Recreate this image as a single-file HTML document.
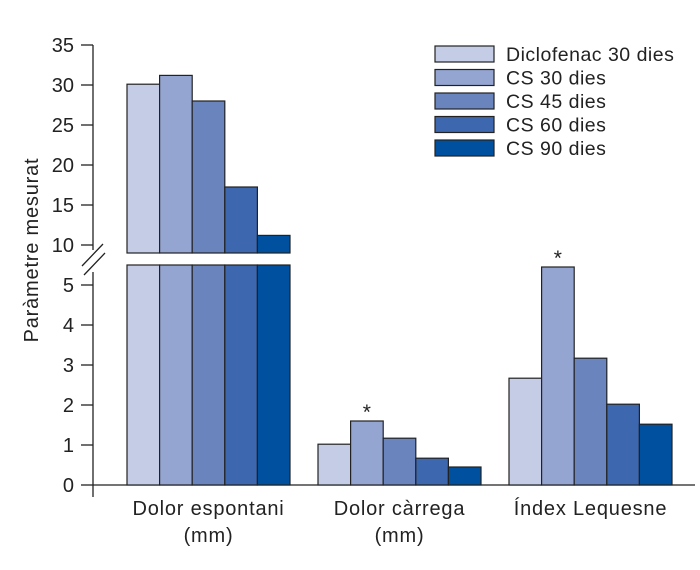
<!DOCTYPE html>
<html><head><meta charset="utf-8"><style>
body{margin:0;background:#fff}
svg{display:block;font-family:"Liberation Sans",sans-serif}
</style></head><body>
<svg id="c" width="700" height="570" xmlns="http://www.w3.org/2000/svg"></svg>
<script>
const categories=[["Dolor espontani","(mm)"],["Dolor càrrega","(mm)"],["Índex Lequesne",""]];
const seriesNames=["Diclofenac 30 dies","CS 30 dies","CS 45 dies","CS 60 dies","CS 90 dies"];
const diclofenac30=[30.1,1.02,2.67];
const cs30=[31.2,1.6,5.45];
const cs45=[28,1.17,3.17];
const cs60=[17.25,0.67,2.02];
const cs90=[11.2,0.45,1.52];
const series=[diclofenac30,cs30,cs45,cs60,cs90];
const lowerTicks=[0,1,2,3,4,5];
const upperTicks=[10,15,20,25,30,35];
const starred=[[1,1],[2,1]];
const colors=["#c5cce6","#95a5d2","#6a84be","#3d67ae","#0050a0"];
const svg=document.getElementById('c');
const NS="http://www.w3.org/2000/svg";
function mk(t,a,p){const e=document.createElementNS(NS,t);for(const k in a)e.setAttribute(k,a[k]);(p||svg).appendChild(e);return e;}
const yLow=v=>485-40*v;
const yUp=v=>245-8*(v-10);
const LOWMAX=5.5, UPBOT=253;
const x0=93, groupStart=[127,318,509], bw=32.6;
let e=mk('line',{x1:x0,y1:45,x2:x0,y2:250,stroke:'#222','stroke-width':1.3});

e=mk('line',{x1:x0,y1:272,x2:x0,y2:497,stroke:'#222','stroke-width':1.3});

e=mk('line',{x1:x0,y1:485,x2:695,y2:485,stroke:'#222','stroke-width':1.3});

e=mk('path',{d:'M82 266 L103 244 M84 275 L105 253',stroke:'#222','stroke-width':1.3,fill:'none'});

lowerTicks.forEach(v=>{
  const y=yLow(v);
  let l=mk('line',{x1:81,y1:y,x2:x0,y2:y,stroke:'#222','stroke-width':1.3});
  
  let t=mk('text',{x:74,y:y+7,'text-anchor':'end','font-size':20,fill:'#222'});t.textContent=v;
  
});
upperTicks.forEach(v=>{
  const y=yUp(v);
  let l=mk('line',{x1:81,y1:y,x2:x0,y2:y,stroke:'#222','stroke-width':1.3});
  
  let t=mk('text',{x:74,y:y+7,'text-anchor':'end','font-size':20,fill:'#222'});t.textContent=v;
  
});
e=mk('text',{x:38,y:250,'text-anchor':'middle','font-size':20,'letter-spacing':0.8,fill:'#222',transform:'rotate(-90 38 250)'});
e.textContent='Paràmetre mesurat';

series.forEach((vals,s)=>{
  vals.forEach((v,g)=>{
    const x=groupStart[g]+s*bw;
    if(v>LOWMAX){
      let r=mk('rect',{x:x,y:yLow(LOWMAX),width:bw,height:485-yLow(LOWMAX),fill:colors[s],stroke:'#222','stroke-width':1.2});
      
      let r2=mk('rect',{x:x,y:yUp(v),width:bw,height:UPBOT-yUp(v),fill:colors[s],stroke:'#222','stroke-width':1.2});
      
    } else {
      let r=mk('rect',{x:x,y:yLow(v),width:bw,height:485-yLow(v),fill:colors[s],stroke:'#222','stroke-width':1.2});
      
    }
  });
});
starred.forEach(([g,s])=>{
  const v=series[s][g];
  let t=mk('text',{x:groupStart[g]+s*bw+bw/2,y:yLow(v)-2,'text-anchor':'middle','font-size':21,fill:'#222'});
  t.textContent='*';
  
});
categories.forEach((c,g)=>{
  const cx=groupStart[g]+2.5*bw;
  let t=mk('text',{x:cx,y:515,'text-anchor':'middle','font-size':20,'letter-spacing':0.8,fill:'#222'});t.textContent=c[0];
  
  if(c[1]){let t2=mk('text',{x:cx,y:542,'text-anchor':'middle','font-size':20,'letter-spacing':0.8,fill:'#222'});t2.textContent=c[1];
  }
});
seriesNames.forEach((n,s)=>{
  const y=46+s*23.5;
  let r=mk('rect',{x:435,y:y,width:59,height:16,fill:colors[s],stroke:'#222','stroke-width':1.2});
  
  let t=mk('text',{x:506,y:y+15,'font-size':19.5,'letter-spacing':0.5,fill:'#222'});t.textContent=n;
  
});
</script>
</body></html>
